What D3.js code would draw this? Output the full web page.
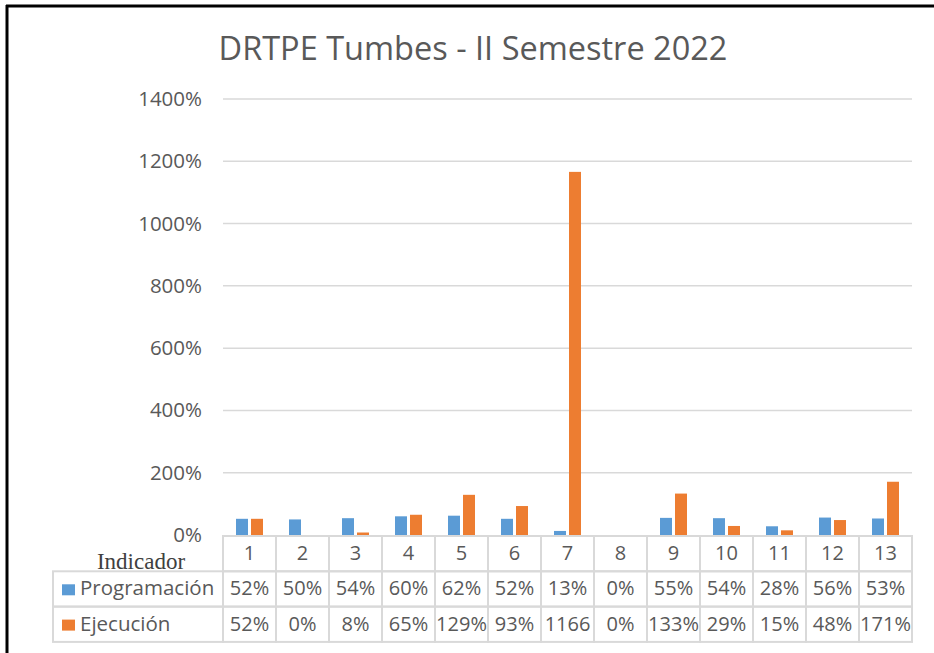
<!DOCTYPE html>
<html>
<head>
<meta charset="utf-8">
<script src="https://cdn.jsdelivr.net/npm/d3@7"></script>
<style>
  body { margin: 0; background: #fff; }
  svg { display: block; }
</style>
</head>
<body>
<svg id="chart" width="934" height="653"></svg>
<script>
// data
const indicadores = ["1","2","3","4","5","6","7","8","9","10","11","12","13"];
const programacion = [52, 50, 54, 60, 62, 52, 13, 0, 55, 54, 28, 56, 53];
const ejecucion = [52, 0, 8, 65, 129, 93, 1166, 0, 133, 29, 15, 48, 171];
const yTicks = [0, 200, 400, 600, 800, 1000, 1200, 1400];
const seriesNames = ["Programación", "Ejecución"];
const colors = ["#5B9BD5", "#ED7D31"];

const svg = d3.select("#chart");
const font = "'Open Sans', sans-serif";
const textColor = "#595959";

// frame
svg.append("line").attr("x1", 7).attr("y1", 5).attr("x2", 7).attr("y2", 653)
  .attr("stroke", "#000").attr("stroke-width", 3);
svg.append("line").attr("x1", 6).attr("y1", 6).attr("x2", 934).attr("y2", 6)
  .attr("stroke", "#000").attr("stroke-width", 3);

const plotLeft = 223, plotRight = 912, plotTop = 99, plotBottom = 535;

const x = d3.scaleBand().domain(indicadores).range([plotLeft, plotRight]);
const y = d3.scaleLinear().domain([0, 1400]).range([plotBottom, plotTop]);

// title
svg.append("text")
  .attr("x", 473).attr("y", 60)
  .attr("text-anchor", "middle")
  .attr("font-family", font).attr("font-size", 32.5)
  .attr("fill", textColor)
  .text("DRTPE Tumbes - II Semestre 2022");

// grid
svg.append("g").selectAll("line").data(yTicks.filter(d => d > 0)).join("line")
  .attr("x1", plotLeft).attr("x2", plotRight)
  .attr("y1", d => y(d)).attr("y2", d => y(d))
  .attr("stroke", "#D9D9D9").attr("stroke-width", 1.5);

// y axis labels
svg.append("g").selectAll("text").data(yTicks).join("text")
  .attr("x", 202).attr("y", d => y(d) + 7)
  .attr("text-anchor", "end")
  .attr("font-family", font).attr("font-size", 20.5)
  .attr("fill", textColor)
  .text(d => d + "%");

// bars
const barW = 12, gap = 3;
const series = [programacion, ejecucion];
series.forEach((vals, si) => {
  svg.append("g").selectAll("rect").data(vals).join("rect")
    .attr("x", (d, i) => x(indicadores[i]) + x.bandwidth() / 2 - barW - gap / 2 + si * (barW + gap))
    .attr("width", barW)
    .attr("y", d => y(d))
    .attr("height", d => plotBottom - y(d))
    .attr("fill", colors[si]);
});

// data table
const rowTop = 536, rowH = 35.3, tableLeft = 53;
const borderColor = "#D9D9D9";
const tbl = svg.append("g");

// header row (indicator numbers)
indicadores.forEach(k => {
  tbl.append("rect").attr("x", x(k)).attr("y", rowTop).attr("width", x.bandwidth()).attr("height", rowH)
    .attr("fill", "none").attr("stroke", borderColor).attr("stroke-width", 2);
  tbl.append("text").attr("x", x(k) + x.bandwidth() / 2).attr("y", rowTop + 24)
    .attr("text-anchor", "middle").attr("font-family", font).attr("font-size", 20)
    .attr("fill", textColor).text(k);
});

svg.append("text").attr("x", 141).attr("y", 569)
  .attr("text-anchor", "middle").attr("font-family", "'Liberation Serif', 'DejaVu Serif', serif")
  .attr("font-size", 23).attr("fill", "#404040").text("Indicador");

series.forEach((vals, si) => {
  const ry = rowTop + rowH * (si + 1);
  tbl.append("rect").attr("x", tableLeft).attr("y", ry).attr("width", plotLeft - tableLeft).attr("height", rowH)
    .attr("fill", "none").attr("stroke", borderColor).attr("stroke-width", 2);
  tbl.append("rect").attr("x", 62).attr("y", ry + 13).attr("width", 13).attr("height", 11)
    .attr("fill", colors[si]);
  tbl.append("text").attr("x", 80).attr("y", ry + 24)
    .attr("font-family", font).attr("font-size", 20.5).attr("fill", textColor)
    .text(seriesNames[si]);
  vals.forEach((v, i) => {
    const k = indicadores[i];
    const cx = x(k);
    tbl.append("rect").attr("x", cx).attr("y", ry).attr("width", x.bandwidth()).attr("height", rowH)
      .attr("fill", "none").attr("stroke", borderColor).attr("stroke-width", 2);
    const t = tbl.append("text")
      .attr("x", cx + x.bandwidth() / 2).attr("y", ry + 24)
      .attr("text-anchor", "middle").attr("font-family", font).attr("font-size", 20)
      .attr("fill", textColor).text(v + "%");
    // like the spreadsheet: a label too wide for its cell loses the % sign
    if (t.node().getComputedTextLength() > x.bandwidth() + 2) t.text(String(v));
  });
});
</script>
</body>
</html>
